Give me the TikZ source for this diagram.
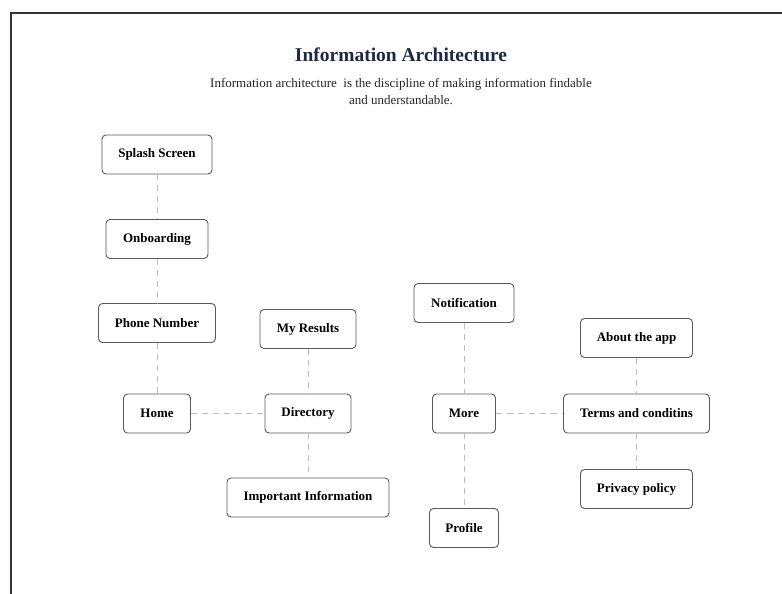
\documentclass[tikz,border=0pt]{standalone}
\usepackage{fontspec}
\setmainfont{Liberation Serif}
\definecolor{titlecol}{HTML}{1E2A44}
\definecolor{boxcol}{HTML}{5A5A5A}
\definecolor{linkcol}{HTML}{BDBDBD}
\definecolor{framecol}{HTML}{333333}
\begin{document}
\begin{tikzpicture}[x=1pt,y=-1pt,
  box/.style={draw=boxcol, line width=0.9pt, rounded corners=4pt, fill=white,
    font=\bfseries\fontsize{13}{15}\selectfont, minimum height=39pt, inner sep=0pt, text=black},
  link/.style={draw=linkcol, line width=0.9pt, dash pattern=on 6pt off 5pt}]
\useasboundingbox (0,0) rectangle (782,594);
\draw[line width=2pt, draw=framecol] (11,594) -- (11,13) -- (782,13);

\node (title) at (401,55) [text=titlecol, font=\bfseries\fontsize{19.5}{23}\selectfont] {Information Architecture};
\node (sub) at (401,91.5) [align=center, text=black!85, font=\fontsize{13}{17}\selectfont]
  {Information architecture\ \ is the discipline of making information findable\\and understandable.};

\node[box, minimum width=110pt] (splash) at (157,154.5) {Splash Screen};
\node[box, minimum width=102pt] (onb) at (157,239) {Onboarding};
\node[box, minimum width=117pt] (phone) at (157,323) {Phone Number};
\node[box, minimum width=67pt] (home) at (157,413.5) {Home};
\node[box, minimum width=96pt] (results) at (308,329) {My Results};
\node[box, minimum width=86pt] (dir) at (308,413.5) {Directory};
\node[box, minimum width=162pt] (info) at (308,497.5) {Important Information};
\node[box, minimum width=100pt] (notif) at (464,303) {Notification};
\node[box, minimum width=63pt] (more) at (464,413.5) {More};
\node[box, minimum width=69pt] (profile) at (464,528) {Profile};
\node[box, minimum width=112pt] (about) at (636.5,338) {About the app};
\node[box, minimum width=146pt] (terms) at (636.5,413.5) {Terms and conditins};
\node[box, minimum width=112pt] (privacy) at (636.5,489) {Privacy policy};

\draw[link] (splash) -- (onb);
\draw[link] (onb) -- (phone);
\draw[link] (phone) -- (home);
\draw[link] (home) -- (dir);
\draw[link] (results) -- (dir);
\draw[link] (dir) -- (info);
\draw[link] (notif) -- (more);
\draw[link] (more) -- (profile);
\draw[link] (more) -- (terms);
\draw[link] (about) -- (terms);
\draw[link] (terms) -- (privacy);
\end{tikzpicture}
\end{document}
